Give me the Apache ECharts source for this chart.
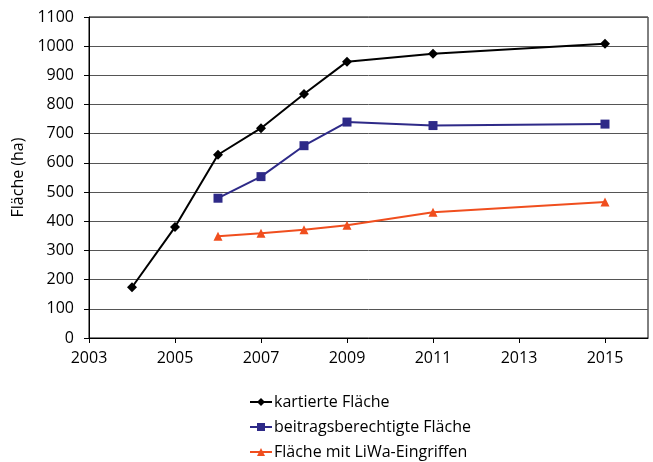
<!DOCTYPE html>
<html><head><meta charset="utf-8">
<script src="https://cdn.jsdelivr.net/npm/echarts@6/dist/echarts.min.js"></script>
<style>html,body{margin:0;padding:0;background:#fff}#c{width:653px;height:462px}</style>
</head><body><div id="c"></div>
<script>
const years1 = [2004, 2005, 2006, 2007, 2008, 2009, 2011, 2015];
const kartiert = [174, 380, 628, 719, 836, 947, 974, 1008];
const years2 = [2006, 2007, 2008, 2009, 2011, 2015];
const beitrag = [479, 553, 659, 740, 728, 733];
const liwa = [349, 359, 371, 386, 431, 466];
const xTicks = [2003, 2005, 2007, 2009, 2011, 2013, 2015];
const seriesNames = ['kartierte Fläche', 'beitragsberechtigte Fläche', 'Fläche mit LiWa-Eingriffen'];

const font = '"Open Sans", Lato, sans-serif';
const chart = echarts.init(document.getElementById('c'), null, {renderer: 'canvas'});
function pairs(xs, ys) { return xs.map((x, i) => [x, ys[i]]); }
chart.setOption({
  animation: false,
  textStyle: {fontFamily: font},
  grid: {left: 89, top: 17, right: 5, bottom: 124, show: true, borderColor: '#000', borderWidth: 1},
  legend: {
    orient: 'vertical', left: 249, top: 394, height: 68, padding: 0, itemGap: 9, itemWidth: 22, itemHeight: 10,
    textStyle: {fontSize: 16, lineHeight: 16, color: '#000', fontFamily: font, padding: [0,0,0,-3]},
    data: seriesNames
  },
  xAxis: {
    type: 'value', min: 2003, max: 2016,
    axisLine: {lineStyle: {color: '#000'}},
    axisTick: {show: true, length: 5, inside: false, lineStyle: {color: '#000'}, customValues: xTicks},
    axisLabel: {fontSize: 16, color: '#000', margin: 12, customValues: xTicks, formatter: v => String(v)},
    splitLine: {show: false}
  },
  yAxis: {
    type: 'value', min: 0, max: 1100, interval: 100,
    name: 'Fläche (ha)', nameLocation: 'middle', nameGap: 57,
    nameTextStyle: {fontSize: 16, color: '#000', fontFamily: font},
    axisLine: {show: true, lineStyle: {color: '#000'}},
    axisTick: {show: true, length: 5, lineStyle: {color: '#000'}},
    axisLabel: {fontSize: 16, color: '#000', margin: 15, formatter: v => String(v)},
    splitLine: {show: true, lineStyle: {color: '#555', width: 1}}
  },
  series: [
    {name: seriesNames[0], type: 'line', data: pairs(years1, kartiert), symbol: 'diamond', symbolSize: 10,
     lineStyle: {color: '#000', width: 2}, itemStyle: {color: '#000'}},
    {name: seriesNames[1], type: 'line', data: pairs(years2, beitrag), symbol: 'rect', symbolSize: 9,
     lineStyle: {color: '#2e2a88', width: 2}, itemStyle: {color: '#2e2a88'}},
    {name: seriesNames[2], type: 'line', data: pairs(years2, liwa), symbol: 'triangle', symbolSize: 9,
     lineStyle: {color: '#f04e1e', width: 2}, itemStyle: {color: '#f04e1e'}}
  ]
});
</script></body></html>
